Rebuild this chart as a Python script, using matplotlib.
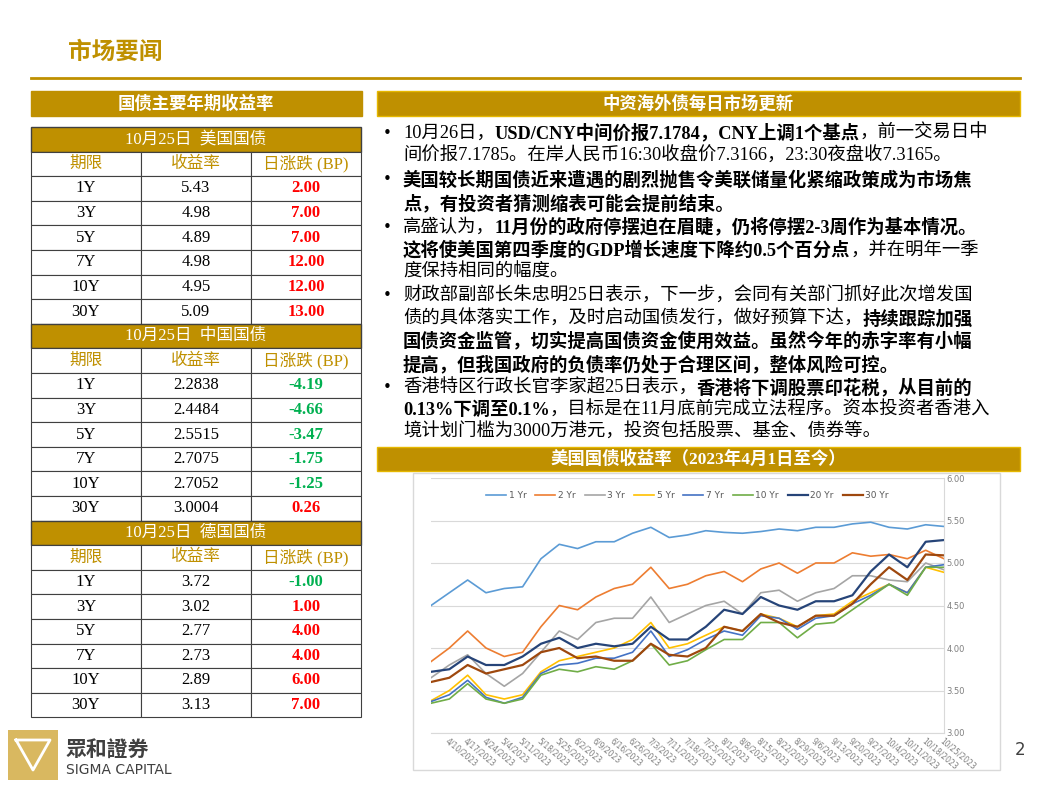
import matplotlib
matplotlib.use("Agg")
import matplotlib.pyplot as plt
from matplotlib.patches import Rectangle

plt.rcParams['font.family'] = ['Liberation Serif', 'Noto Sans CJK SC', 'DejaVu Sans']

GOLD = '#BF9000'
RED = '#FF0000'
GREEN = '#00B050'

# ---------------- data ----------------
terms = ['1Y', '3Y', '5Y', '7Y', '10Y', '30Y']
us_yield = ['5.43', '4.98', '4.89', '4.98', '4.95', '5.09']
us_chg = [2.00, 7.00, 7.00, 12.00, 12.00, 13.00]
cn_yield = ['2.2838', '2.4484', '2.5515', '2.7075', '2.7052', '3.0004']
cn_chg = [-4.19, -4.66, -3.47, -1.75, -1.25, 0.26]
de_yield = ['3.72', '3.02', '2.77', '2.73', '2.89', '3.13']
de_chg = [-1.00, 1.00, 4.00, 4.00, 6.00, 7.00]

dates = ['4/3/2023', '4/10/2023', '4/17/2023', '4/24/2023', '5/4/2023', '5/11/2023', '5/18/2023',
         '5/25/2023', '6/2/2023', '6/9/2023', '6/16/2023', '6/26/2023', '7/3/2023', '7/11/2023',
         '7/18/2023', '7/25/2023', '8/1/2023', '8/8/2023', '8/15/2023', '8/22/2023', '8/29/2023',
         '9/6/2023', '9/13/2023', '9/20/2023', '9/27/2023', '10/4/2023', '10/11/2023',
         '10/18/2023', '10/25/2023']
y1 = [4.50, 4.65, 4.80, 4.65, 4.70, 4.72, 5.05, 5.22, 5.17, 5.25, 5.25, 5.35, 5.42, 5.30, 5.33,
      5.38, 5.36, 5.35, 5.37, 5.40, 5.38, 5.42, 5.42, 5.46, 5.48, 5.42, 5.40, 5.45, 5.43]
y2 = [3.84, 4.00, 4.20, 4.00, 3.90, 3.95, 4.25, 4.50, 4.45, 4.60, 4.70, 4.75, 4.95, 4.70, 4.75,
      4.85, 4.90, 4.78, 4.93, 5.00, 4.88, 5.00, 5.00, 5.12, 5.08, 5.10, 5.05, 5.15, 5.05]
y3 = [3.65, 3.80, 3.92, 3.70, 3.55, 3.70, 3.95, 4.20, 4.10, 4.30, 4.35, 4.35, 4.60, 4.30, 4.40,
      4.50, 4.55, 4.40, 4.65, 4.68, 4.55, 4.65, 4.70, 4.85, 4.85, 4.80, 4.78, 5.00, 4.92]
y5 = [3.38, 3.50, 3.68, 3.45, 3.40, 3.45, 3.72, 3.85, 3.90, 3.95, 4.00, 4.10, 4.30, 4.00, 4.05,
      4.15, 4.25, 4.20, 4.40, 4.35, 4.25, 4.38, 4.40, 4.55, 4.65, 4.75, 4.65, 4.95, 4.89]
y7 = [3.37, 3.45, 3.62, 3.42, 3.35, 3.42, 3.70, 3.80, 3.82, 3.88, 3.88, 3.95, 4.20, 3.90, 3.98,
      4.10, 4.20, 4.15, 4.38, 4.35, 4.22, 4.35, 4.38, 4.52, 4.62, 4.75, 4.65, 4.95, 4.98]
y10 = [3.35, 3.40, 3.58, 3.40, 3.35, 3.40, 3.68, 3.75, 3.72, 3.78, 3.75, 3.85, 4.05, 3.80, 3.85,
       3.98, 4.10, 4.10, 4.30, 4.30, 4.12, 4.28, 4.30, 4.45, 4.60, 4.75, 4.62, 4.95, 4.95]
y20 = [3.72, 3.75, 3.90, 3.80, 3.80, 3.90, 4.05, 4.12, 4.00, 4.05, 4.02, 4.05, 4.25, 4.10, 4.10,
       4.25, 4.45, 4.40, 4.60, 4.50, 4.45, 4.55, 4.55, 4.62, 4.90, 5.10, 4.95, 5.25, 5.27]
y30 = [3.60, 3.65, 3.80, 3.70, 3.75, 3.80, 3.95, 4.00, 3.88, 3.90, 3.85, 3.85, 4.05, 3.92, 3.90,
       4.00, 4.25, 4.20, 4.40, 4.30, 4.25, 4.38, 4.38, 4.52, 4.75, 4.95, 4.80, 5.10, 5.09]
series_names = ['1 Yr', '2 Yr', '3 Yr', '5 Yr', '7 Yr', '10 Yr', '20 Yr', '30 Yr']
series_vals = [y1, y2, y3, y5, y7, y10, y20, y30]
series_cols = ['#5B9BD5', '#ED7D31', '#A5A5A5', '#FFC000', '#4472C4', '#70AD47', '#264478', '#9E480E']

W, H = 1044, 787
fig = plt.figure(figsize=(W / 100, H / 100), dpi=100)
bg = fig.add_axes([0, 0, 1, 1])
bg.set_xlim(0, W)
bg.set_ylim(H, 0)
bg.axis('off')

# title
bg.text(68, 53, '市场要闻', fontsize=17, color=GOLD, fontweight='bold', va='center', ha='left')
bg.plot([31, 1020], [78, 78], color=GOLD, lw=2)

# left header
bg.add_patch(Rectangle((31, 91), 331, 25, color=GOLD))
bg.text(196, 104, '国债主要年期收益率', color='white', fontsize=12.5, fontweight='bold', ha='center', va='center')

# tables
rh = 24.6
cols = [31, 141, 251, 361]


def table(y0, title, ylds, chgs):
    bg.add_patch(Rectangle((31, y0), 330, rh, facecolor=GOLD, edgecolor='#404040', lw=1))
    bg.text(196, y0 + rh / 2, title, color='white', fontsize=12, ha='center', va='center')
    y = y0 + rh
    for j, h in enumerate(['期限', '收益率', '日涨跌 (BP)']):
        bg.add_patch(Rectangle((cols[j], y), 110, rh, facecolor='white', edgecolor='#404040', lw=0.8))
        bg.text(cols[j] + 55, y + rh / 2, h, color=GOLD, fontsize=12, ha='center', va='center')
    for i in range(len(terms)):
        y = y0 + rh * (i + 2)
        for j in range(3):
            bg.add_patch(Rectangle((cols[j], y), 110, rh, facecolor='white', edgecolor='#404040', lw=0.8))
        bg.text(cols[0] + 55, y + rh / 2, terms[i], fontsize=12, ha='center', va='center')
        bg.text(cols[1] + 55, y + rh / 2, ylds[i], fontsize=12, ha='center', va='center')
        c = chgs[i]
        bg.text(cols[2] + 55, y + rh / 2, f'{c:.2f}', fontsize=12, fontweight='bold',
                color=RED if c > 0 else GREEN, ha='center', va='center')


table(127, '10月25日  美国国债', us_yield, us_chg)
table(127 + 8 * rh, '10月25日  中国国债', cn_yield, cn_chg)
table(127 + 16 * rh, '10月25日  德国国债', de_yield, de_chg)

# right header
bg.add_patch(Rectangle((377, 91), 643, 25, facecolor=GOLD, edgecolor='#E6B800', lw=1))
bg.text(698, 104, '中资海外债每日市场更新', color='white', fontsize=12.5, fontweight='bold', ha='center', va='center')

lines = [
    (True, [('10月26日，', False), ('USD/CNY中间价报7.1784，CNY上调1个基点', True), ('，前一交易日中', False)]),
    (False, [('间价报7.1785。在岸人民币16:30收盘价7.3166，23:30夜盘收7.3165。', False)]),
    (True, [('美国较长期国债近来遭遇的剧烈抛售令美联储量化紧缩政策成为市场焦', True)]),
    (False, [('点，有投资者猜测缩表可能会提前结束。', True)]),
    (True, [('高盛认为，', False), ('11月份的政府停摆迫在眉睫，仍将停摆2-3周作为基本情况。', True)]),
    (False, [('这将使美国第四季度的GDP增长速度下降约0.5个百分点', True), ('，并在明年一季', False)]),
    (False, [('度保持相同的幅度。', False)]),
    (True, [('财政部副部长朱忠明25日表示，下一步，会同有关部门抓好此次增发国', False)]),
    (False, [('债的具体落实工作，及时启动国债发行，做好预算下达，', False), ('持续跟踪加强', True)]),
    (False, [('国债资金监管，切实提高国债资金使用效益。虽然今年的赤字率有小幅', True)]),
    (False, [('提高，但我国政府的负债率仍处于合理区间，整体风险可控。', True)]),
    (True, [('香港特区行政长官李家超25日表示，', False), ('香港将下调股票印花税，从目前的', True)]),
    (False, [('0.13%下调至0.1%', True), ('，目标是在11月底前完成立法程序。资本投资者香港入', False)]),
    (False, [('境计划门槛为3000万港元，投资包括股票、基金、债券等。', False)]),
]
ly = [133, 156, 180, 204, 227, 250, 272, 296, 319, 342, 365, 388, 410, 432]
renderer = fig.canvas.get_renderer()
for (bul, segs), y in zip(lines, ly):
    if bul:
        bg.text(387, y, '•', fontsize=11, ha='center', va='center', family='DejaVu Sans')
    x = 403
    for s, b in segs:
        t = bg.text(x, y, s, fontsize=13.2, fontweight='bold' if b else 'normal', ha='left', va='center')
        x += t.get_window_extent(renderer).width

# chart header
bg.add_patch(Rectangle((377, 447), 643, 24, facecolor=GOLD, edgecolor='#E6B800', lw=1))
bg.text(698, 459, '美国国债收益率（2023年4月1日至今）', color='white', fontsize=12.5, fontweight='bold',
        ha='center', va='center')
bg.add_patch(Rectangle((413, 473), 587, 297, facecolor='white', edgecolor='#D9D9D9', lw=1))

# chart
ax = fig.add_axes([431 / W, 1 - 733 / H, (944 - 431) / W, (733 - 478) / H])
xs = list(range(len(dates)))
for nm, v, c in zip(series_names, series_vals, series_cols):
    ax.plot(xs, v, color=c, lw=1.6 if nm in ('20 Yr', '30 Yr') else 1.2, label=nm)
ax.set_xlim(0, len(dates) - 1)
ax.set_ylim(3.0, 6.0)
ax.yaxis.tick_right()
ax.set_yticks([3.0, 3.5, 4.0, 4.5, 5.0, 5.5, 6.0])
ax.set_yticklabels([f'{v:.2f}' for v in [3.0, 3.5, 4.0, 4.5, 5.0, 5.5, 6.0]], fontsize=6, color='#7F7F7F',
                   family='DejaVu Sans')
ax.grid(axis='y', color='#D9D9D9', lw=0.8)
ax.set_axisbelow(True)
ax.set_xticks(xs[1:])
ax.set_xticklabels(dates[1:], rotation=-40, ha='left', rotation_mode='anchor', fontsize=5.5,
                   color='#7F7F7F', family='DejaVu Sans')
ax.tick_params(length=0, pad=2)
for s in ['top', 'left']:
    ax.spines[s].set_visible(False)
ax.spines['bottom'].set_color('#D9D9D9')
ax.spines['right'].set_color('#D9D9D9')
ax.legend(loc='upper center', ncol=8, frameon=False, handlelength=2.2,
          columnspacing=1.0, handletextpad=0.3, prop={'family': 'DejaVu Sans', 'size': 6.5},
          bbox_to_anchor=(0.5, 0.98), labelcolor='#595959')

# logo
bg.add_patch(Rectangle((8, 730), 50, 50, facecolor='#D9B860', edgecolor='none'))
bg.plot([16, 50, 33, 16], [740, 740, 770, 740], color='white', lw=2)
bg.text(66, 750, '眾和證券', fontsize=15, fontweight='bold', color='#404040', va='center',
        family=['Noto Sans CJK TC'])
bg.text(66, 770, 'SIGMA CAPITAL', fontsize=10, color='#404040', va='center', family='DejaVu Sans')
bg.text(1020, 750, '2', fontsize=12, color='#404040', ha='center', va='center', family='DejaVu Sans')

fig.savefig('out.png', dpi=100)
